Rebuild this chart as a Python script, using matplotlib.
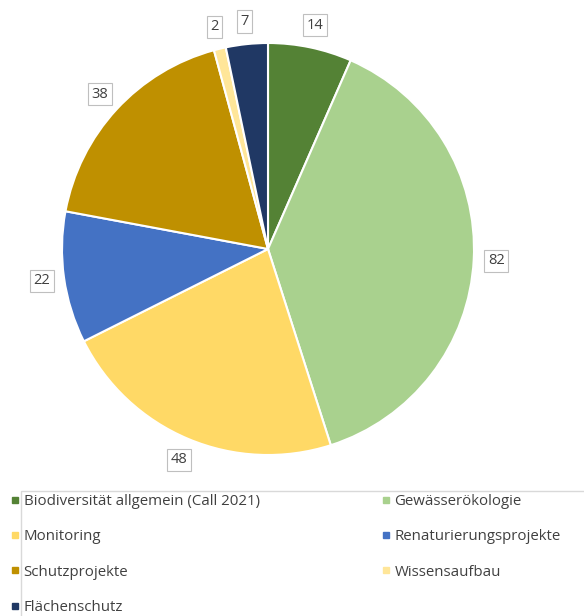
import numpy as np
import matplotlib.pyplot as plt
from matplotlib.patches import Rectangle
from matplotlib.lines import Line2D

plt.rcParams['font.family'] = ['Open Sans', 'DejaVu Sans']

categories = ['Biodiversität allgemein (Call 2021)', 'Gewässerökologie', 'Monitoring',
              'Renaturierungsprojekte', 'Schutzprojekte', 'Wissensaufbau', 'Flächenschutz']
values = [14, 82, 48, 22, 38, 2, 7]
colors = ['#548235', '#A9D18E', '#FFD966', '#4472C4', '#BF9000', '#FFE699', '#203864']

W, H = 584, 616
fig = plt.figure(figsize=(W / 100, H / 100), dpi=100)
ax = fig.add_axes([0, 0, 1, 1])

cx, cy, r = 268, H - 249, 206
wedges, _ = ax.pie(values, colors=colors, startangle=90, counterclock=False,
                   center=(cx, cy), radius=r, frame=True,
                   wedgeprops=dict(edgecolor='white', linewidth=1.5))
ax.set_xlim(0, W)
ax.set_ylim(0, H)
ax.set_aspect('equal')
ax.axis('off')

# value labels outside the wedges
for w, v in zip(wedges, values):
    ang = np.deg2rad((w.theta1 + w.theta2) / 2)
    d = r * 1.11
    ax.text(cx + d * np.cos(ang), cy + d * np.sin(ang), str(v),
            ha='center', va='center', fontsize=10.5, color='#404040',
            bbox=dict(boxstyle='square,pad=0.25', fc='white', ec='#BFBFBF', lw=0.8))

# legend (row-wise order)
ax.add_patch(Rectangle((21, -10), W, H - 491 + 10, fill=False, ec='#D9D9D9', lw=1))
order = [0, 2, 4, 6, 1, 3, 5]
handles = [Line2D([], [], marker='s', color=colors[i], ls='none', markersize=4.5) for i in order]
labels = [categories[i] for i in order]
fig.legend(handles, labels, loc='upper left', bbox_to_anchor=(4 / W, 1 - 488 / H),
           ncol=2, frameon=False, fontsize=10.8, labelcolor='#404040',
           handlelength=0.6, handletextpad=0.3, columnspacing=8.1, labelspacing=1.35,
           borderaxespad=0)

fig.savefig('out.png', dpi=100)
